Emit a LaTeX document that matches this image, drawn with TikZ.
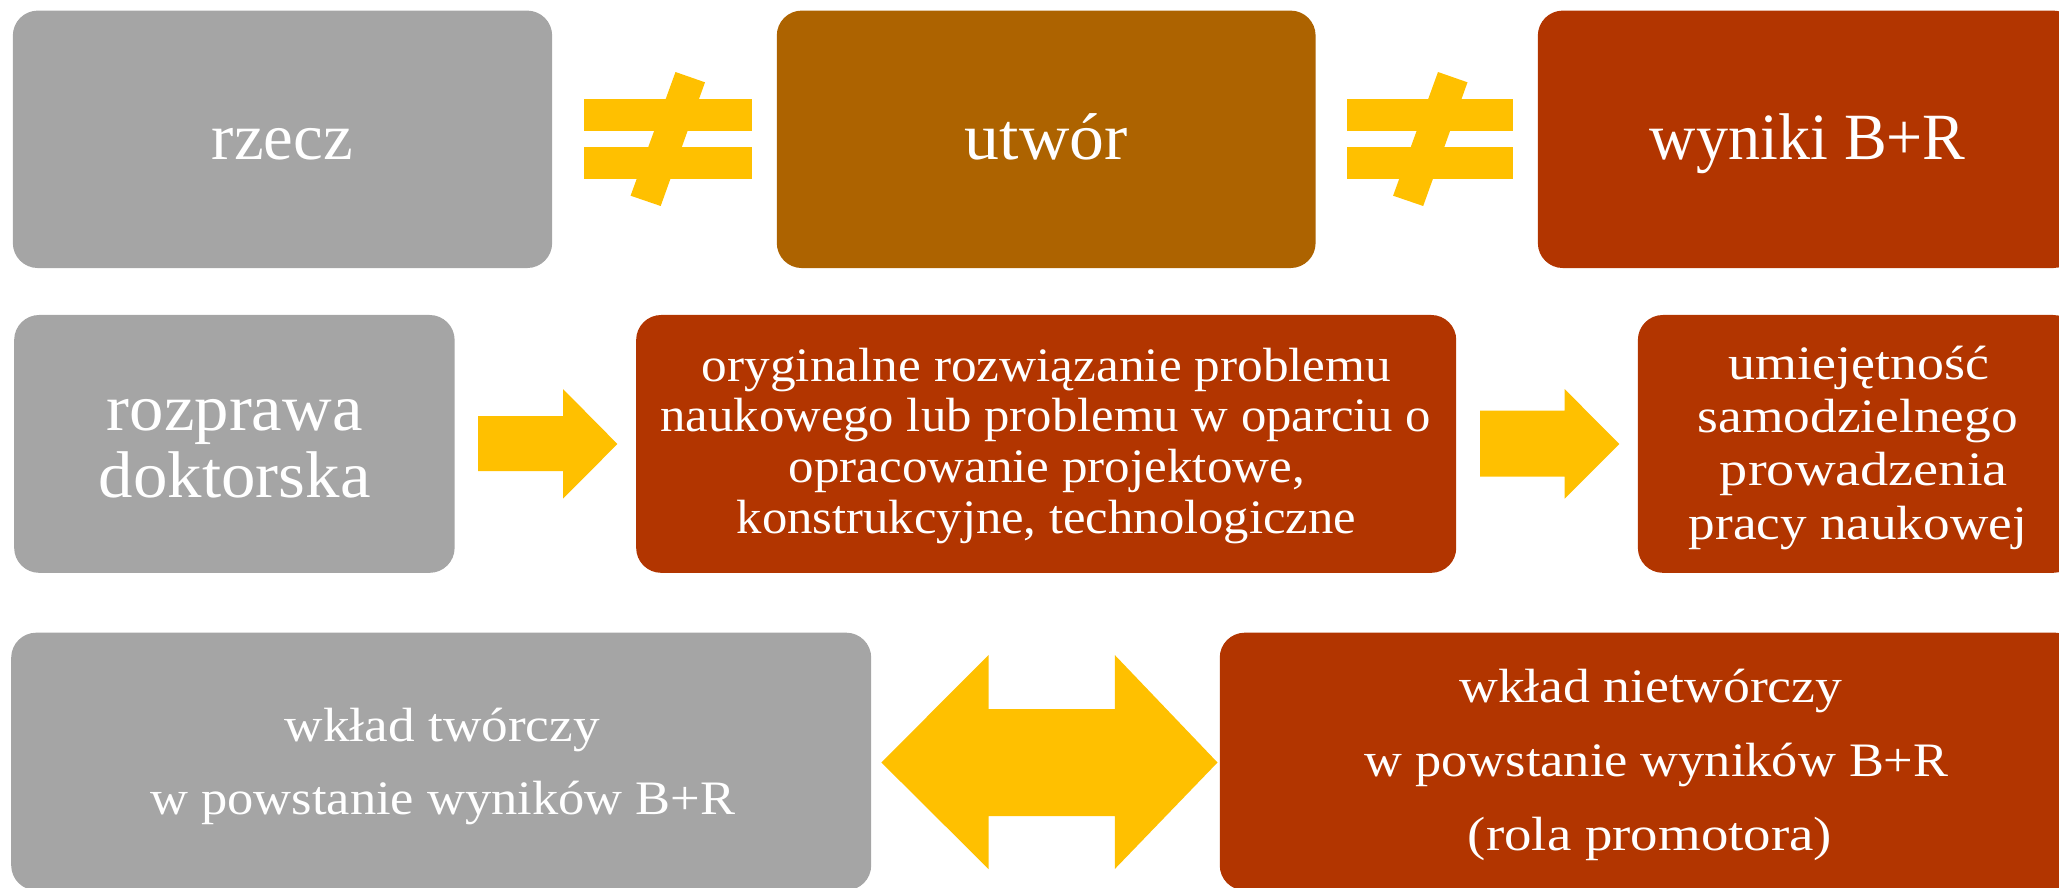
\documentclass[tikz,border=0pt]{standalone}
\usepackage{fontspec}
\setmainfont{Liberation Serif}
\usepackage{graphicx}
\definecolor{cgray}{HTML}{A5A5A5}
\definecolor{cbrown}{HTML}{AD6300}
\definecolor{cred}{HTML}{B23500}
\definecolor{cgold}{HTML}{FFC000}
\newcommand\fbig{\fontsize{18.78pt}{22pt}\selectfont}
\newcommand\fsml{\fontsize{13.66pt}{16pt}\selectfont}
\newcommand\rl[2]{\resizebox{#1}{\height}{#2}}
\begin{document}
\begin{tikzpicture}[x=0.01cm,y=-0.01cm,
  box/.style={rectangle, rounded corners=0.25cm, inner sep=0pt, draw=none},
  txt/.style={anchor=base, inner sep=0pt, text=white},
  blockarrow/.style={fill=cgold, draw=none}]
\useasboundingbox (0,0) rectangle (2059,887);
\clip (0,0) rectangle (2059,887);
% row 1
\node[box, fill=cgray, minimum width=5.39cm, minimum height=2.573cm] (rzecz) at (282.5,139.3) {};
\node[box, fill=cbrown, minimum width=5.385cm, minimum height=2.573cm] (utwor) at (1046.2,139.3) {};
\node[box, fill=cred, minimum width=5.40cm, minimum height=2.573cm] (wyniki) at (1808,139.3) {};
\node[txt, font=\fbig] (t-rzecz) at (282.5,159) {\rl{1.41cm}{rzecz}};
\node[txt, font=\fbig] (t-utwor) at (1046.3,159) {\rl{1.626cm}{utwór}};
\node[txt, font=\fbig] (t-wyniki) at (1807.8,159) {\rl{3.155cm}{wyniki B+R}};
% not-equal signs
\fill[cgold] (584,99) rectangle (752,131);
\fill[cgold] (584,147) rectangle (752,179);
\fill[cgold] (675.5,72) -- (705,82.3) -- (660.7,206) -- (630.6,195.7) -- cycle;
\fill[cgold] (1347,99) rectangle (1513.4,131);
\fill[cgold] (1347,147) rectangle (1513.4,179);
\fill[cgold] (1438,72) -- (1467.5,82.3) -- (1423.2,206) -- (1393.1,195.7) -- cycle;
% row 2
\node[box, fill=cgray, minimum width=4.402cm, minimum height=2.577cm] (rozprawa) at (234.4,443.9) {};
\node[box, fill=cred, minimum width=8.196cm, minimum height=2.577cm] (oryg) at (1046.2,443.9) {};
\node[box, fill=cred, minimum width=4.40cm, minimum height=2.577cm] (umiej) at (1858,443.9) {};
\node[txt, font=\fbig] (t-roz1) at (234.8,430) {\rl{2.555cm}{rozprawa}};
\node[txt, font=\fbig] (t-roz2) at (234.8,497.3) {\rl{2.715cm}{doktorska}};
\node[txt, font=\fsml] (t-or1) at (1046.5,381.7) {\rl{6.89cm}{oryginalne rozwiązanie problemu}};
\node[txt, font=\fsml] (t-or2) at (1045.8,431.7) {\rl{7.704cm}{naukowego lub problemu w oparciu o}};
\node[txt, font=\fsml] (t-or3) at (1046.8,482.7) {\rl{5.159cm}{opracowanie projektowe,}};
\node[txt, font=\fsml] (t-or4) at (1046.4,533.3) {\rl{6.187cm}{konstrukcyjne, technologiczne}};
\node[txt, font=\fsml] (t-um1) at (1858.9,379) {\rl{2.602cm}{umiejętność}};
\node[txt, font=\fsml] (t-um2) at (1857.8,432.7) {\rl{3.20cm}{samodzielnego}};
\node[txt, font=\fsml] (t-um3) at (1863.8,485.7) {\rl{2.876cm}{prowadzenia}};
\node[txt, font=\fsml] (t-um4) at (1857.8,539.3) {\rl{3.379cm}{pracy naukowej}};
% arrows row 2
\fill[blockarrow] (478,416) -- (563,416) -- (563,389) -- (617.4,444) -- (563,498.7) -- (563,471) -- (478,471) -- cycle;
\fill[blockarrow] (1480,410.7) -- (1564.6,410.7) -- (1564.6,389) -- (1619.3,444) -- (1564.6,498.7) -- (1564.6,476.7) -- (1480,476.7) -- cycle;
% row 3
\node[box, fill=cgray, minimum width=8.595cm, minimum height=2.575cm] (tworczy) at (441.2,761.5) {};
\node[box, fill=cred, minimum width=8.60cm, minimum height=2.575cm] (nietworczy) at (1650,761.5) {};
\node[txt, font=\fsml] (t-tw1) at (442.3,741.7) {\rl{3.145cm}{wkład twórczy}};
\node[txt, font=\fsml] (t-tw2) at (442.9,814.3) {\rl{5.848cm}{w powstanie wyników B+R}};
\node[txt, font=\fsml] (t-nt1) at (1650.8,702.7) {\rl{3.829cm}{wkład nietwórczy}};
\node[txt, font=\fsml] (t-nt2) at (1656.5,776.7) {\rl{5.836cm}{w powstanie wyników B+R}};
\node[txt, font=\fsml] (t-nt3) at (1650,850.7) {\rl{3.64cm}{(rola promotora)}};
% double arrow
\fill[blockarrow] (881.4,762.5) -- (988.5,655) -- (988.5,709) -- (1114.8,709) -- (1114.8,655) -- (1217.5,762.5) -- (1114.8,869) -- (1114.8,816) -- (988.5,816) -- (988.5,869) -- cycle;
\end{tikzpicture}
\end{document}
